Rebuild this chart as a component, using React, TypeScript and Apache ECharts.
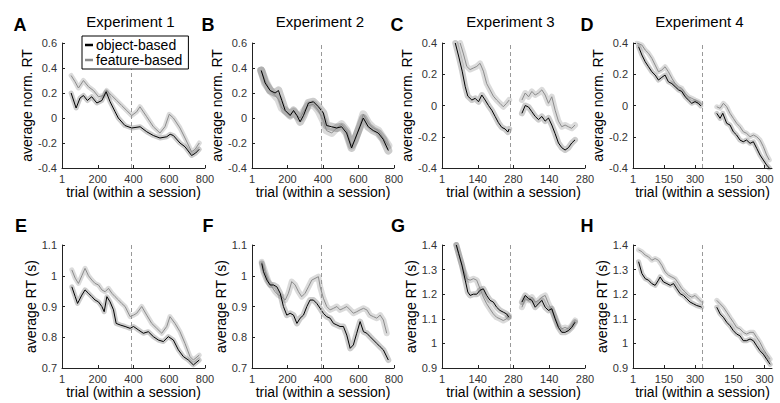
import React, { useEffect, useRef } from "react";
import * as echarts from "echarts";

const FONT = "'Liberation Sans', Arial, Helvetica, sans-serif";

// ---------- tick labels ----------
const xTicksLong = [0, 200, 400, 600, 800];
const xLabelsLong = ["1", "200", "400", "600", "800"];
const xTicksC = [0, 140, 280, 420, 560];
const xLabelsC = ["1", "140", "280", "140", "280"];
const xTicksD = [0, 150, 300, 486, 636];
const xLabelsD = ["1", "150", "300", "150", "300"];

// ---------- Experiment 1 (normalised RT) ----------
const objA = [[51,0.2],[79,0.08],[101,0.16],[120,0.18],[142,0.14],[166,0.17],[195,0.12],[223,0.14],[247,0.21],[269,0.13],[297,0.05],[315,0.0],[352,-0.06],[390,-0.08],[437,-0.07],[474,-0.11],[511,-0.14],[548,-0.16],[586,-0.15],[605,-0.13],[623,-0.14],[660,-0.2],[688,-0.23],[725,-0.3],[748,-0.28],[768,-0.25]];
const featA = [[51,0.34],[73,0.29],[92,0.24],[120,0.3],[148,0.25],[176,0.22],[204,0.17],[232,0.18],[250,0.22],[278,0.18],[306,0.14],[334,0.1],[362,0.06],[390,0.02],[418,0.05],[436,0.09],[474,0.01],[511,-0.07],[548,-0.12],[576,-0.07],[600,0.03],[623,0.0],[660,-0.08],[688,-0.16],[725,-0.27],[745,-0.25],[768,-0.2]];
// ---------- Experiment 2 ----------
const objB = [[52,0.38],[74,0.28],[102,0.22],[130,0.2],[149,0.22],[168,0.14],[187,0.06],[215,0.02],[234,0.06],[253,0.02],[271,-0.03],[290,0.02],[318,0.12],[346,0.13],[374,0.09],[402,0.04],[420,-0.06],[449,-0.07],[477,-0.08],[505,-0.07],[533,-0.12],[561,-0.24],[580,-0.17],[608,-0.07],[627,0.0],[655,-0.07],[683,-0.1],[711,-0.12],[739,-0.17],[768,-0.26]];
const featB = [[52,0.38],[74,0.3],[102,0.22],[130,0.18],[149,0.15],[168,0.08],[187,0.06],[215,0.03],[234,0.05],[253,0.02],[271,0.0],[290,0.05],[318,0.1],[346,0.11],[374,0.06],[402,-0.02],[420,-0.1],[449,-0.12],[477,-0.08],[505,-0.05],[533,-0.1],[561,-0.22],[580,-0.18],[608,-0.06],[627,0.03],[655,-0.04],[683,-0.08],[711,-0.1],[739,-0.16],[768,-0.22]];
// ---------- Experiment 3 ----------
const objC1 = [[52,0.4],[66,0.31],[79,0.22],[91,0.12],[101,0.06],[117,0.035],[130,0.046],[143,0.024],[156,0.067],[169,0.035],[182,0.0],[195,-0.03],[208,-0.07],[221,-0.11],[234,-0.14],[247,-0.15],[258,-0.17],[263,-0.15]];
const featC1 = [[71,0.4],[84,0.33],[97,0.25],[110,0.23],[123,0.24],[136,0.25],[149,0.27],[162,0.22],[175,0.14],[188,0.1],[201,0.06],[214,0.035],[227,0.014],[240,-0.008],[253,0.014],[263,0.035]];
const objC2 = [[313,-0.05],[326,0.0],[339,-0.01],[352,-0.04],[365,-0.07],[378,-0.09],[391,-0.07],[404,-0.1],[417,-0.08],[430,-0.125],[443,-0.18],[456,-0.24],[469,-0.27],[482,-0.285],[495,-0.27],[508,-0.24],[521,-0.22]];
const featC2 = [[313,0.035],[326,0.08],[339,0.056],[352,0.09],[365,0.067],[378,0.08],[391,0.1],[404,0.067],[417,0.014],[430,0.056],[443,-0.03],[456,-0.1],[469,-0.136],[482,-0.125],[495,-0.136],[508,-0.146],[521,-0.125]];
// ---------- Experiment 4 ----------
const objD1 = [[27,0.376],[43,0.323],[59,0.28],[75,0.248],[91,0.216],[107,0.195],[123,0.163],[139,0.18],[155,0.195],[171,0.152],[188,0.14],[204,0.12],[220,0.1],[236,0.09],[252,0.056],[268,0.035],[284,0.014],[300,0.025],[316,0.014],[328,-0.003]];
const featD1 = [[19,0.4],[43,0.387],[59,0.355],[75,0.334],[91,0.302],[107,0.259],[123,0.216],[139,0.227],[155,0.248],[171,0.216],[188,0.174],[204,0.14],[220,0.12],[236,0.11],[252,0.078],[268,0.056],[284,0.046],[300,0.035],[316,0.025],[328,0.014]];
const objD2 = [[405,-0.05],[421,-0.082],[434,-0.05],[453,-0.114],[469,-0.125],[485,-0.168],[501,-0.189],[517,-0.221],[533,-0.232],[549,-0.221],[566,-0.242],[582,-0.232],[598,-0.274],[614,-0.317],[630,-0.349],[646,-0.381],[659,-0.4]];
const featD2 = [[405,-0.008],[421,-0.018],[437,0.014],[453,-0.008],[469,-0.05],[485,-0.082],[501,-0.114],[517,-0.136],[533,-0.168],[549,-0.178],[566,-0.2],[582,-0.189],[598,-0.2],[614,-0.221],[630,-0.263],[646,-0.317],[659,-0.349]];
// ---------- Experiment 1 (RT s) ----------
const objE = [[55,0.964],[74,0.932],[87,0.91],[111,0.937],[129,0.954],[148,0.943],[167,0.932],[185,0.921],[204,0.915],[223,0.9],[236,0.883],[251,0.932],[269,0.915],[288,0.889],[303,0.845],[325,0.84],[353,0.835],[381,0.829],[400,0.835],[427,0.824],[455,0.813],[483,0.818],[511,0.802],[539,0.791],[567,0.786],[595,0.802],[623,0.791],[651,0.759],[679,0.737],[707,0.726],[735,0.71],[768,0.726]];
const featE = [[55,1.019],[74,0.992],[92,0.975],[111,1.0],[129,1.024],[148,1.0],[167,0.986],[185,0.975],[204,0.97],[223,0.954],[241,0.948],[260,0.959],[279,0.943],[297,0.932],[316,0.921],[334,0.91],[353,0.9],[381,0.867],[400,0.872],[418,0.878],[446,0.9],[474,0.872],[502,0.845],[530,0.829],[558,0.813],[586,0.835],[604,0.867],[632,0.845],[660,0.818],[688,0.78],[716,0.737],[735,0.726],[768,0.742]];
// ---------- Experiment 2 (RT s) ----------
const objF = [[55,1.04],[65,1.013],[84,0.986],[102,0.97],[121,0.97],[140,0.964],[159,0.943],[177,0.9],[196,0.872],[215,0.878],[234,0.872],[253,0.845],[271,0.862],[290,0.872],[309,0.9],[327,0.921],[346,0.921],[365,0.91],[384,0.894],[402,0.878],[421,0.867],[440,0.862],[459,0.845],[478,0.84],[496,0.835],[515,0.835],[534,0.807],[553,0.764],[571,0.775],[590,0.813],[609,0.851],[628,0.818],[647,0.813],[665,0.802],[684,0.791],[703,0.78],[722,0.769],[740,0.759],[768,0.726]];
const featF = [[55,1.045],[74,1.013],[93,0.981],[112,0.964],[130,0.948],[149,0.937],[168,0.932],[187,0.921],[205,0.943],[224,0.981],[243,0.97],[262,0.948],[280,0.932],[299,0.943],[318,0.964],[337,0.986],[374,0.997],[384,0.964],[402,0.927],[421,0.9],[440,0.889],[459,0.894],[478,0.9],[496,0.889],[515,0.894],[534,0.9],[553,0.889],[571,0.878],[590,0.883],[609,0.889],[628,0.894],[647,0.889],[665,0.872],[684,0.867],[703,0.862],[722,0.872],[740,0.856],[759,0.813]];
// ---------- Experiment 3 (RT s) ----------
const objG1 = [[56,1.4],[65,1.366],[78,1.318],[91,1.257],[101,1.209],[110,1.195],[123,1.2],[136,1.2],[149,1.216],[162,1.222],[175,1.195],[188,1.175],[201,1.168],[214,1.147],[227,1.134],[240,1.127],[253,1.12],[262,1.106]];
const featG1 = [[56,1.4],[71,1.345],[84,1.298],[97,1.263],[110,1.257],[123,1.263],[136,1.257],[149,1.222],[162,1.188],[175,1.161],[188,1.14],[201,1.12],[214,1.106],[227,1.1],[240,1.093],[253,1.1],[262,1.113]];
const objG2 = [[313,1.168],[326,1.195],[339,1.182],[352,1.175],[365,1.147],[378,1.161],[391,1.175],[404,1.147],[417,1.134],[430,1.141],[443,1.1],[456,1.065],[469,1.045],[482,1.045],[495,1.052],[508,1.065],[521,1.086]];
const featG2 = [[313,1.147],[326,1.182],[339,1.175],[352,1.188],[365,1.168],[378,1.175],[391,1.188],[404,1.195],[417,1.161],[430,1.134],[443,1.106],[456,1.072],[469,1.059],[482,1.065],[495,1.059],[508,1.072],[521,1.093]];
// ---------- Experiment 4 (RT s) ----------
const objH1 = [[27,1.332],[43,1.284],[59,1.263],[75,1.257],[91,1.243],[107,1.236],[123,1.257],[131,1.27],[147,1.25],[164,1.243],[180,1.236],[196,1.243],[212,1.222],[228,1.202],[244,1.195],[260,1.181],[276,1.168],[292,1.161],[308,1.154],[324,1.15],[332,1.147]];
const featH1 = [[27,1.38],[43,1.373],[59,1.359],[75,1.352],[91,1.338],[107,1.345],[123,1.338],[139,1.318],[155,1.291],[172,1.277],[188,1.27],[204,1.263],[220,1.243],[236,1.222],[252,1.209],[268,1.195],[284,1.188],[300,1.195],[316,1.181],[332,1.168]];
const objH2 = [[405,1.147],[421,1.12],[437,1.106],[453,1.086],[469,1.072],[485,1.052],[501,1.038],[517,1.031],[533,1.011],[549,1.011],[566,1.018],[582,1.011],[598,0.99],[614,0.97],[630,0.956],[646,0.936],[663,0.915]];
const featH2 = [[405,1.175],[421,1.161],[437,1.147],[453,1.127],[469,1.106],[485,1.086],[501,1.065],[517,1.059],[533,1.045],[549,1.038],[566,1.045],[582,1.045],[598,1.024],[614,1.004],[630,0.977],[646,0.956],[663,0.936]];

type Panel = {
  letter: string; title?: string; left: number; width: number; top: number; height: number;
  xMax: number; ticks: number[]; labels: string[]; interval?: number;
  yMin: number; yMax: number; yInt: number; yName: string; divider: number;
  obj: number[][][]; feat: number[][][]; bandW: number;
};

const TOP = { top: 43, height: 125 };
const BOT = { top: 245, height: 123 };
const normName = "average norm. RT";
const rtName = "average RT (s)";

const panels: Panel[] = [
  { letter: "A", title: "Experiment 1", left: 62, width: 143, ...TOP, xMax: 800, ticks: xTicksLong, labels: xLabelsLong, interval: 200, yMin: -0.4, yMax: 0.6, yInt: 0.2, yName: normName, divider: 386, obj: [objA], feat: [featA], bandW: 5 },
  { letter: "B", title: "Experiment 2", left: 252, width: 142, ...TOP, xMax: 800, ticks: xTicksLong, labels: xLabelsLong, interval: 200, yMin: -0.4, yMax: 0.6, yInt: 0.2, yName: normName, divider: 388, obj: [objB], feat: [featB], bandW: 8 },
  { letter: "C", title: "Experiment 3", left: 442, width: 143, ...TOP, xMax: 560, ticks: xTicksC, labels: xLabelsC, interval: 140, yMin: -0.4, yMax: 0.4, yInt: 0.2, yName: normName, divider: 267, obj: [objC1, objC2], feat: [featC1, featC2], bandW: 6 },
  { letter: "D", title: "Experiment 4", left: 633, width: 139, ...TOP, xMax: 672, ticks: xTicksD, labels: xLabelsD, yMin: -0.4, yMax: 0.4, yInt: 0.2, yName: normName, divider: 334, obj: [objD1, objD2], feat: [featD1, featD2], bandW: 5 },
  { letter: "E", left: 62, width: 143, ...BOT, xMax: 800, ticks: xTicksLong, labels: xLabelsLong, interval: 200, yMin: 0.7, yMax: 1.1, yInt: 0.1, yName: rtName, divider: 388, obj: [objE], feat: [featE], bandW: 5 },
  { letter: "F", left: 252, width: 142, ...BOT, xMax: 800, ticks: xTicksLong, labels: xLabelsLong, interval: 200, yMin: 0.7, yMax: 1.1, yInt: 0.1, yName: rtName, divider: 390, obj: [objF], feat: [featF], bandW: 6 },
  { letter: "G", left: 442, width: 143, ...BOT, xMax: 560, ticks: xTicksC, labels: xLabelsC, interval: 140, yMin: 0.9, yMax: 1.4, yInt: 0.1, yName: rtName, divider: 267, obj: [objG1, objG2], feat: [featG1, featG2], bandW: 6 },
  { letter: "H", left: 633, width: 139, ...BOT, xMax: 672, ticks: xTicksD, labels: xLabelsD, yMin: 0.9, yMax: 1.4, yInt: 0.1, yName: rtName, divider: 334, obj: [objH1, objH2], feat: [featH1, featH2], bandW: 5 },
];

const letterPos: Record<string, [number, number]> = {
  A: [20, 25], B: [208, 25], C: [397, 25], D: [587, 25],
  E: [21, 226], F: [208, 226], G: [398, 226], H: [587, 226],
};

export default function App() {
  const ref = useRef<HTMLDivElement>(null);
  useEffect(() => {
    document.body.style.margin = "0";
    const chart = echarts.init(ref.current!, null, { renderer: "svg" });
    const grid: any[] = [];
    const xAxis: any[] = [];
    const yAxis: any[] = [];
    const series: any[] = [];
    const graphic: any[] = [];

    panels.forEach((p, i) => {
      grid.push({ left: p.left, top: p.top, width: p.width, height: p.height });
      const fmtX = (v: number) => {
        const k = p.ticks.indexOf(Math.round(v));
        return k >= 0 ? p.labels[k] : "";
      };
      xAxis.push({
        gridIndex: i, type: "value", min: 0, max: p.xMax,
        ...(p.interval ? { interval: p.interval } : {}),
        axisLine: { show: true, onZero: false, lineStyle: { color: "#222", width: 1 } },
        axisTick: { show: true, inside: true, length: 3, lineStyle: { color: "#222" }, ...(p.interval ? {} : { customValues: p.ticks }) },
        axisLabel: { fontSize: 11, color: "#333", margin: 5, fontFamily: FONT, formatter: fmtX, ...(p.interval ? {} : { customValues: p.ticks }) },
        splitLine: { show: false },
        name: "trial (within a session)", nameLocation: "middle", nameGap: 17,
        nameTextStyle: { fontSize: 14, color: "#000", fontFamily: FONT },
      });
      yAxis.push({
        gridIndex: i, type: "value", min: p.yMin, max: p.yMax, interval: p.yInt,
        axisLine: { show: true, onZero: false, lineStyle: { color: "#222", width: 1 } },
        axisTick: { show: true, inside: true, length: 3, lineStyle: { color: "#222" } },
        axisLabel: { fontSize: 11, color: "#333", margin: 5, fontFamily: FONT, formatter: (v: number) => String(Math.round(v * 10) / 10) },
        splitLine: { show: false },
        name: p.yName, nameLocation: "middle", nameGap: 24,
        nameTextStyle: { fontSize: 14, color: "#000", fontFamily: FONT },
      });

      const isLegend = p.letter === "A";
      // bands
      p.feat.forEach((seg, s) => {
        series.push({
          type: "line", name: `featband-${p.letter}-${s}`, xAxisIndex: i, yAxisIndex: i, data: seg,
          symbol: "none", silent: true, z: 1, animation: false,
          lineStyle: { width: p.bandW, color: "rgba(0,0,0,0.14)", join: "round", cap: "round" },
          ...(s === 0 ? {
            markLine: { silent: true, symbol: "none", label: { show: false }, animation: false,
              lineStyle: { type: [4, 3], color: "#999", width: 1 }, data: [{ xAxis: p.divider }] },
          } : {}),
        });
      });
      p.obj.forEach((seg, s) => {
        series.push({
          type: "line", name: `objband-${p.letter}-${s}`, xAxisIndex: i, yAxisIndex: i, data: seg,
          symbol: "none", silent: true, z: 1, animation: false,
          lineStyle: { width: p.bandW, color: "rgba(0,0,0,0.2)", join: "round", cap: "round" },
        });
      });
      p.feat.forEach((seg, s) => {
        series.push({
          type: "line", name: isLegend ? "feature-based" : `feat-${p.letter}-${s}`, xAxisIndex: i, yAxisIndex: i, data: seg,
          symbol: "none", z: 3, animation: false,
          itemStyle: { color: "#8c8c8c" },
          lineStyle: { width: 1, color: "#8c8c8c" },
        });
      });
      p.obj.forEach((seg, s) => {
        series.push({
          type: "line", name: isLegend ? "object-based" : `obj-${p.letter}-${s}`, xAxisIndex: i, yAxisIndex: i, data: seg,
          symbol: "none", z: 4, animation: false,
          itemStyle: { color: "#000" },
          lineStyle: { width: 1, color: "#000" },
        });
      });

      const [lx, ly] = letterPos[p.letter];
      graphic.push({
        type: "text", x: lx, y: ly, z: 10,
        style: { text: p.letter, fill: "#000", font: `bold 18px ${FONT}`, textAlign: "center", textVerticalAlign: "middle" },
      });
      if (p.title) {
        graphic.push({
          type: "text", x: p.left + p.width / 2 - 3, y: 21, z: 10,
          style: { text: p.title, fill: "#000", font: `15px ${FONT}`, textAlign: "center", textVerticalAlign: "middle" },
        });
      }
    });

    chart.setOption({
      animation: false,
      backgroundColor: "#fff",
      textStyle: { fontFamily: FONT },
      grid, xAxis, yAxis, series, graphic,
      legend: {
        data: ["object-based", "feature-based"],
        orient: "vertical", left: 82, top: 36, z: 20,
        backgroundColor: "#fff", borderColor: "#000", borderWidth: 1,
        padding: [2, 6, 2, 3], itemGap: 1, itemWidth: 8, itemHeight: 2.5, icon: "rect",
        textStyle: { fontSize: 14, color: "#000", fontFamily: FONT, padding: [0, 0, 0, -2] },
        selectedMode: false,
      },
    });
    return () => chart.dispose();
  }, []);
  return <div ref={ref} style={{ width: 780, height: 403 }} />;
}
